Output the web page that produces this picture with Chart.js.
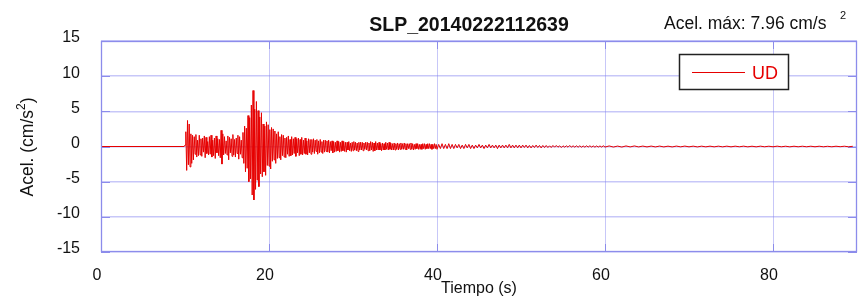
<!DOCTYPE html>
<html>
<head>
<meta charset="utf-8">
<script src="https://cdn.jsdelivr.net/npm/chart.js@4/dist/chart.umd.min.js"></script>
<style>
  html, body { margin: 0; padding: 0; background: #fff; }
  #wrap { width: 860px; height: 297px; position: relative; }
</style>
</head>
<body>
<div id="wrap"><canvas id="c"></canvas></div>
<script>
// ---------- data ----------
const chartTitle = 'SLP_20140222112639';
const peakText = 'Acel. máx: 7.96 cm/s';
const peakSup = '2';
const seriesName = 'UD';
const xTitle = 'Tiempo (s)';
const yTitleMain = 'Acel. (cm/s';
const yTitleSup = '2';
const yTitleEnd = ')';
const xTicks = [0, 20, 40, 60, 80];
const yTicks = [-15, -10, -5, 0, 5, 10, 15];

// pre-event (quiet) samples
const preTimes = [0, 5, 9.9];
const preAcc = [0, 0, 0];

// strong-motion part: samples every 0.1 s starting at 10.0 s
const strongStart = 10.0;
const strongDt = 0.1;
const strongAcc = [
  0.2, 2.1, -3.4, 3.7, -2.6, 3.2, -2.9, 1.8, -2.4, 1.6,
  -1.9, 1.4, -1.1, 1.7, -1.5, 0.9, -1.3, 1.6, -1.2, 1.1,
  -1.4, 1.2, -0.8, 1.5, -1.6, 1.3, -1.0, 0.7, -1.2, 1.4,
  -1.1, 1.6, -1.5, 0.9, -1.3, 1.2, -1.7, 1.5, -0.9, 1.1,
  -1.3, 1.0, -1.6, 2.3, -2.5, 1.8, -1.2, 1.4, -1.0, 0.8,
  -1.2, 1.5, -1.9, 1.3, -0.9, 1.1, -1.4, 1.7, -1.2, 1.0,
  -1.5, 1.2, -1.0, 1.6, -1.8, 1.4, -1.1, 0.9, -1.6, 2.0,
  -2.4, 2.9, -3.6, 2.6, -3.1, 4.4, -5.0, 4.1, -4.6, 5.9,
  -6.9, 7.96, -7.6, 5.3, -6.1, 6.4, -4.8, 5.1, -5.7, 4.2,
  -3.9, 4.8, -4.3, 3.2, -3.6, 2.9, -4.1, 3.5, -2.7, 3.1,
  -2.8, 2.4, -3.2, 2.7, -2.1, 2.5, -1.9, 2.2, -2.4, 1.8,
  -1.7, 2.1, -1.6, 1.4, -1.9, 1.7, -1.3, 1.6, -1.5, 1.2,
  -1.6, 1.3, -1.1, 1.5, -1.4, 1.0, -1.3, 1.4, -1.2, 1.1,
  -1.0, 1.3, -1.4, 1.1, -0.9, 1.2, -1.3, 1.0, -1.1, 1.3,
  -1.2, 0.9, -1.0, 1.2, -1.1, 0.8, -1.2, 1.1, -0.9, 1.0,
  -1.1, 1.0, -0.8, 1.1, -1.0, 0.9, -0.7, 1.0, -1.1, 0.8,
  -0.9, 1.0, -0.8, 0.7, -1.0, 0.9, -0.8, 0.9, -0.7, 0.8,
  -0.8, 0.9, -0.9, 0.7, -0.6, 0.8, -0.9, 0.7, -0.8, 0.6,
  -0.7, 0.8, -0.6, 0.7, -0.8, 0.6, -0.7, 0.8, -0.6, 0.7,
  -0.7, 0.6, -0.8, 0.6, -0.5, 0.7, -0.6, 0.5, -0.7, 0.6,
  -0.6, 0.7, -0.5, 0.6, -0.6, 0.5, -0.7, 0.6, -0.5, 0.6,
  -0.5, 0.6, -0.6, 0.5, -0.4, 0.6, -0.5, 0.6, -0.6, 0.5,
  -0.6, 0.7, -0.5, 0.6, -0.7, 0.5, -0.6, 0.7, -0.5, 0.5,
  -0.5, 0.6, -0.5, 0.4, -0.6, 0.5, -0.5, 0.4, -0.5, 0.6,
  -0.4, 0.5, -0.5, 0.6, -0.4, 0.5, -0.5, 0.4, -0.5, 0.5,
  -0.5, 0.4, -0.4, 0.5, -0.5, 0.4, -0.4, 0.5, -0.4, 0.4,
  -0.4, 0.5, -0.4, 0.4, -0.5, 0.4, -0.3, 0.4, -0.4, 0.5,
  -0.4, 0.4, -0.5, 0.3, -0.4, 0.4, -0.3, 0.4, -0.4, 0.3,
  -0.4, 0.3, -0.4, 0.4, -0.3, 0.4, -0.4, 0.3, -0.3, 0.4,
  -0.3, 0.4, -0.3, 0.3, -0.4, 0.3, -0.3, 0.4, -0.3, 0.3
];

// late coda: samples every 0.2 s starting at 40.0 s
const codaStart = 40.0;
const codaDt = 0.2;
const codaAcc = [
  -0.4, 0.3, -0.3, 0.4, -0.3, 0.3, -0.3, 0.4, -0.3, 0.3,
  -0.3, 0.3, -0.2, 0.3, -0.3, 0.2, -0.3, 0.3, -0.2, 0.3,
  -0.3, 0.2, -0.3, 0.2, -0.2, 0.3, -0.2, 0.2, -0.3, 0.2,
  -0.2, 0.3, -0.2, 0.2, -0.2, 0.2, -0.3, 0.2, -0.2, 0.2,
  -0.2, 0.2, -0.2, 0.3, -0.2, 0.2, -0.2, 0.2, -0.2, 0.2,
  -0.2, 0.2, -0.15, 0.2, -0.2, 0.15, -0.2, 0.15, -0.15, 0.2,
  -0.15, 0.15, -0.2, 0.15, -0.15, 0.15, -0.15, 0.1, -0.15, 0.15,
  -0.1, 0.15, -0.1, 0.1, -0.15, 0.1, -0.1, 0.1, -0.1, 0.15,
  -0.1, 0.1, -0.1, 0.1, -0.1, 0.1, -0.1, 0.08, -0.1, 0.1,
  -0.08, 0.1, -0.08, 0.08, -0.1, 0.08, -0.08, 0.08, -0.08, 0.1
];

// tail: samples every 0.5 s starting at 60.0 s
const tailStart = 60.0;
const tailDt = 0.5;
const tailAcc = [
  -0.08, 0.08, -0.08, 0.06, -0.08, 0.08, -0.06, 0.08, -0.06, 0.06,
  -0.06, 0.06, -0.06, 0.06, -0.06, 0.05, -0.06, 0.06, -0.05, 0.06,
  -0.05, 0.05, -0.06, 0.05, -0.05, 0.05, -0.05, 0.05, -0.05, 0.05,
  -0.05, 0.05, -0.04, 0.05, -0.05, 0.04, -0.05, 0.05, -0.04, 0.04,
  -0.04, 0.05, -0.04, 0.04, -0.05, 0.04, -0.04, 0.04, -0.04, 0.04,
  -0.04, 0.04, -0.04, 0.03, -0.04, 0.04, -0.03, 0.04, -0.04, 0.03
];

// ---------- build points ----------
const points = [];
preTimes.forEach((t, i) => points.push({ x: t, y: preAcc[i] }));
strongAcc.forEach((v, i) => points.push({ x: strongStart + i * strongDt, y: v }));
codaAcc.forEach((v, i) => points.push({ x: codaStart + i * codaDt, y: v }));
tailAcc.forEach((v, i) => points.push({ x: tailStart + i * tailDt, y: v }));

const FONT = '"Liberation Sans", Arial, sans-serif';
const GRID = 'rgba(130,130,240,0.45)';
const FRAME = 'rgb(140,140,235)';
const TRACE = 'rgb(230,0,0)';

const decorPlugin = {
  id: 'decor',
  beforeDatasetsDraw(chart) {
    const { ctx, chartArea: a, scales } = chart;
    ctx.save();
    ctx.strokeStyle = FRAME;
    ctx.lineWidth = 1;
    ctx.beginPath();
    yTicks.forEach(v => {
      const y = Math.round(scales.y.getPixelForValue(v)) + 0.5;
      ctx.moveTo(a.left, y); ctx.lineTo(a.left + 9, y);
      ctx.moveTo(a.right - 9, y); ctx.lineTo(a.right, y);
    });
    xTicks.forEach(v => {
      const x = Math.round(scales.x.getPixelForValue(v)) + 0.5;
      ctx.moveTo(x, a.bottom); ctx.lineTo(x, a.bottom - 8);
      ctx.moveTo(x, a.top); ctx.lineTo(x, a.top + 8);
    });
    ctx.stroke();
    ctx.restore();
  },
  afterDraw(chart) {
    const { ctx, chartArea: a } = chart;
    ctx.save();
    ctx.strokeStyle = FRAME;
    ctx.lineWidth = 1.3;
    ctx.strokeRect(a.left + 0.5, a.top + 0.5, a.right - a.left - 1, a.bottom - a.top - 1);

    ctx.fillStyle = '#111';
    ctx.textBaseline = 'alphabetic';
    ctx.textAlign = 'center';
    ctx.font = 'bold 19.5px ' + FONT;
    ctx.fillText(chartTitle, 469, 31);

    ctx.textAlign = 'left';
    ctx.font = '17.5px ' + FONT;
    ctx.fillText(peakText, 664, 29);
    ctx.font = '11px ' + FONT;
    ctx.fillText(peakSup, 840, 19);

    ctx.textAlign = 'center';
    ctx.font = '16px ' + FONT;
    ctx.fillText(xTitle, (a.left + a.right) / 2, 293);

    ctx.save();
    ctx.translate(33, 147);
    ctx.rotate(-Math.PI / 2);
    ctx.font = '17.5px ' + FONT;
    const w1 = ctx.measureText(yTitleMain).width;
    ctx.font = '12px ' + FONT;
    const w2 = ctx.measureText(yTitleSup).width;
    ctx.font = '17.5px ' + FONT;
    const w3 = ctx.measureText(yTitleEnd).width;
    const x0 = -(w1 + w2 + w3) / 2;
    ctx.textAlign = 'left';
    ctx.fillText(yTitleMain, x0, 0);
    ctx.font = '12px ' + FONT;
    ctx.fillText(yTitleSup, x0 + w1, -8);
    ctx.font = '17.5px ' + FONT;
    ctx.fillText(yTitleEnd, x0 + w1 + w2, 0);
    ctx.restore();

    const ds = chart.data.datasets[0];
    ctx.fillStyle = '#fff';
    ctx.fillRect(679, 54, 110, 36);
    ctx.strokeStyle = '#222';
    ctx.lineWidth = 1.5;
    ctx.strokeRect(679.5, 54.5, 109, 35);
    ctx.strokeStyle = ds.borderColor;
    ctx.lineWidth = 1;
    ctx.beginPath();
    ctx.moveTo(692, 72.5); ctx.lineTo(745, 72.5);
    ctx.stroke();
    ctx.fillStyle = ds.borderColor;
    ctx.font = '18px ' + FONT;
    ctx.textAlign = 'left';
    ctx.fillText(ds.label, 752, 79);
    ctx.restore();
  }
};

new Chart(document.getElementById('c'), {
  type: 'line',
  data: {
    datasets: [{
      label: seriesName,
      data: points,
      borderColor: TRACE,
      borderWidth: 1,
      pointRadius: 0,
      tension: 0,
      fill: false
    }]
  },
  options: {
    responsive: true,
    maintainAspectRatio: false,
    animation: false,
    events: [],
    layout: { padding: { left: 0, right: 3, top: 41, bottom: 0 } },
    plugins: {
      legend: { display: false },
      title: { display: false },
      tooltip: { enabled: false }
    },
    scales: {
      x: {
        type: 'linear',
        min: 0, max: 90,
        afterBuildTicks: s => { s.ticks = xTicks.map(v => ({ value: v })); },
        afterFit: s => { s.height = 45; },
        grid: { color: GRID, lineWidth: 1, drawTicks: false },
        border: { display: false },
        ticks: {
          color: '#111',
          font: { family: FONT, size: 16 },
          padding: 14,
          labelOffset: -4,
          maxRotation: 0
        }
      },
      y: {
        type: 'linear',
        min: -15, max: 15,
        afterBuildTicks: s => { s.ticks = yTicks.map(v => ({ value: v })); },
        afterFit: s => { s.width = 101; },
        grid: { color: GRID, lineWidth: 1.5, drawTicks: false },
        border: { display: false },
        ticks: {
          color: '#111',
          font: { family: FONT, size: 16 },
          padding: 21,
          labelOffset: -3
        }
      }
    }
  },
  plugins: [decorPlugin]
});
</script>
</body>
</html>
